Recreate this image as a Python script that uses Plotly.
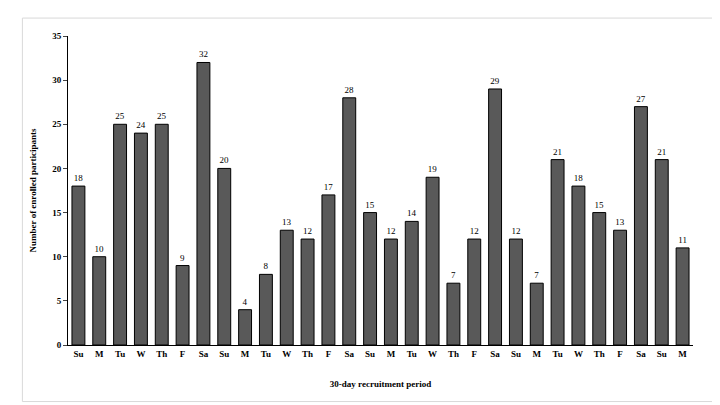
import plotly.graph_objects as go

days = ["Su","M","Tu","W","Th","F","Sa","Su","M","Tu","W","Th","F","Sa","Su","M","Tu","W","Th","F","Sa","Su","M","Tu","W","Th","F","Sa","Su","M"]
values = [18,10,25,24,25,9,32,20,4,8,13,12,17,28,15,12,14,19,7,12,29,12,7,21,18,15,13,27,21,11]
xs = list(range(len(days)))

fig = go.Figure(go.Bar(
    x=xs, y=values, width=0.62,
    marker=dict(color="#595959", line=dict(color="black", width=1)),
    text=values, textposition="outside", cliponaxis=False,
    textfont=dict(family="Liberation Serif", size=9, color="black"),
))
fig.update_layout(
    width=720, height=405, plot_bgcolor="white", paper_bgcolor="white",
    margin=dict(l=60, r=35, t=28, b=68),
    font=dict(family="Liberation Serif", size=9, color="black"),
    showlegend=False,
    shapes=[dict(type="rect", xref="paper", yref="paper", x0=-0.073, x1=1.04, y0=-0.183, y1=1.058,
                 line=dict(color="#d9d9d9", width=1))],
)
fig.update_xaxes(tickvals=xs, ticktext=["<b>%s</b>" % d for d in days], range=[-0.5, 29.5],
                 showline=True, linecolor="black", ticks="", showgrid=False,
                 title=dict(text="<b>30-day recruitment period</b>", font=dict(size=9), standoff=22))
fig.update_yaxes(range=[0, 35], dtick=5, showline=True, linecolor="black", ticks="outside", ticklen=4,
                 tickprefix="<b>", ticksuffix="</b>", showgrid=False, zeroline=False,
                 title=dict(text="<b>Number of enrolled participants</b>", font=dict(size=9), standoff=14))
fig.write_html("out.html")
